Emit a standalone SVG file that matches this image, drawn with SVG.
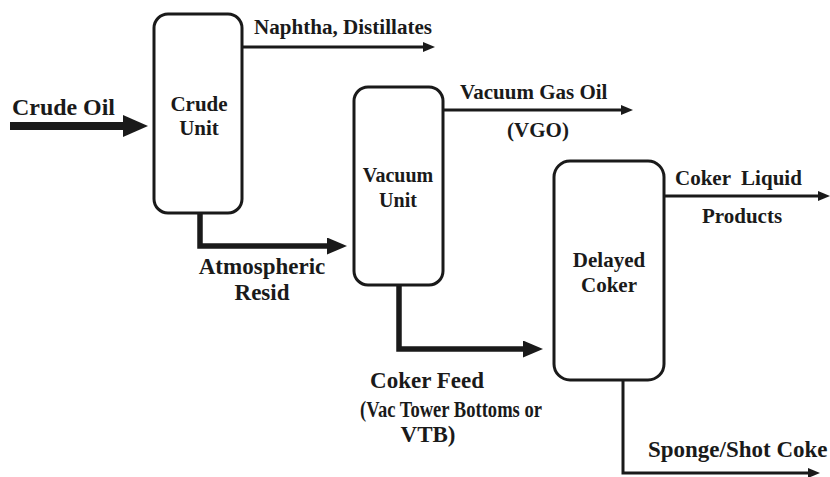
<svg xmlns="http://www.w3.org/2000/svg" width="830" height="477" viewBox="0 0 830 477">
<style>
.unit{fill:#fff;stroke:#1a1a1a;stroke-width:3}
text{font-family:'Liberation Serif','DejaVu Serif',serif;font-weight:bold;fill:#1a1a1a}
.c{text-anchor:middle}
.thin{fill:none;stroke:#1a1a1a;stroke-width:3}
.thick{fill:none;stroke:#1a1a1a;stroke-width:5.5}
.big{fill:none;stroke:#1a1a1a;stroke-width:8}
</style>
<defs>
<marker id="ah" markerUnits="userSpaceOnUse" markerWidth="12" markerHeight="10" refX="3" refY="5" orient="auto"><path d="M0,0 L12,5 L0,10 z" fill="#1a1a1a"/></marker>
<marker id="ahT" markerUnits="userSpaceOnUse" markerWidth="20" markerHeight="17" refX="4" refY="8.5" orient="auto"><path d="M0,0 L20,8.5 L0,17 z" fill="#1a1a1a"/></marker>
<marker id="ahB" markerUnits="userSpaceOnUse" markerWidth="25" markerHeight="22" refX="4" refY="11" orient="auto"><path d="M0,0 L25,11 L0,22 z" fill="#1a1a1a"/></marker>
</defs>
<rect width="830" height="477" fill="#fff"/>
<g id="connectors">
<path class="big" d="M10,126 H127" marker-end="url(#ahB)"/>
<path class="thin" d="M242,47 H426" marker-end="url(#ah)"/>
<path class="thick" d="M200,213 V246 H331" marker-end="url(#ahT)"/>
<path class="thin" d="M443,110 H624" marker-end="url(#ah)"/>
<path class="thick" d="M399,285 V349 H527" marker-end="url(#ahT)"/>
<path class="thin" d="M664,196 H821" marker-end="url(#ah)"/>
<path class="thin" d="M623,380 V473 H811" marker-end="url(#ah)"/>
</g>
<g id="labels">
<text x="254" y="34" font-size="20" textLength="178" lengthAdjust="spacingAndGlyphs">Naphtha, Distillates</text>
<text x="12" y="115" font-size="23" textLength="103" lengthAdjust="spacingAndGlyphs">Crude Oil</text>
<text class="c" x="262" y="274" font-size="23">Atmospheric</text>
<text class="c" x="262" y="300" font-size="23">Resid</text>
<text x="460" y="99" font-size="21">Vacuum Gas Oil</text>
<text class="c" x="538" y="137" font-size="21">(VGO)</text>
<text x="675" y="185" font-size="21" xml:space="preserve">Coker  Liquid</text>
<text class="c" x="742" y="223" font-size="21">Products</text>
<text class="c" x="427" y="388" font-size="23">Coker Feed</text>
<text class="c" x="451" y="417" font-size="23" textLength="182" lengthAdjust="spacingAndGlyphs">(Vac Tower Bottoms or</text>
<text class="c" x="428" y="442" font-size="23">VTB)</text>
<text x="648" y="457" font-size="23">Sponge/Shot Coke</text>
</g>
<g id="crude-unit">
<rect class="unit" x="154" y="14" width="88" height="199" rx="14"/>
<text class="c" x="199" y="111" font-size="21">Crude</text>
<text class="c" x="199" y="135" font-size="21">Unit</text>
</g>
<g id="vacuum-unit">
<rect class="unit" x="354" y="87" width="89" height="198" rx="14"/>
<text class="c" x="398" y="182" font-size="20">Vacuum</text>
<text class="c" x="398" y="207" font-size="20">Unit</text>
</g>
<g id="delayed-coker">
<rect class="unit" x="554" y="161" width="110" height="219" rx="16"/>
<text class="c" x="609" y="267" font-size="21">Delayed</text>
<text class="c" x="609" y="292" font-size="21">Coker</text>
</g>
</svg>
